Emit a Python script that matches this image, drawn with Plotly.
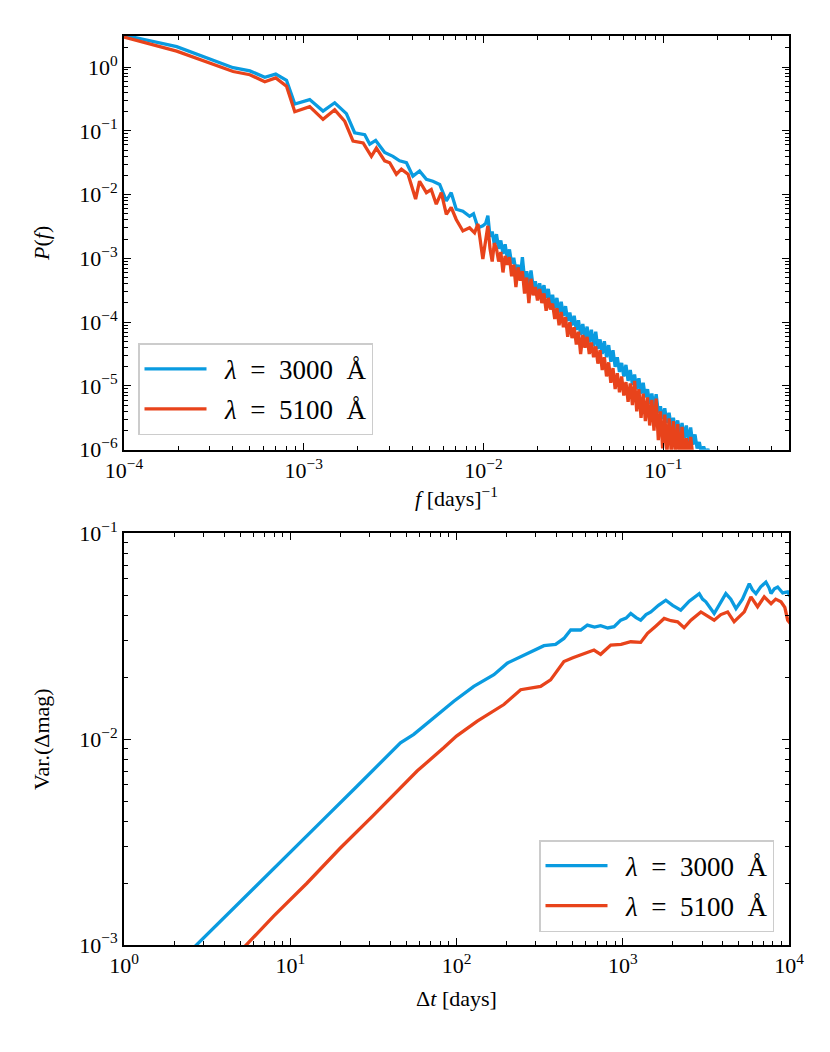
import numpy as np
import plotly.graph_objects as go

# ---------------- data (log10 values) ----------------
# Top panel: power spectrum P(f)
logf_3000 = [-4.0, -3.707, -3.393, -3.30, -3.217, -3.156, -3.096, -3.05, -2.967, -2.893,
             -2.828, -2.763, -2.717, -2.661, -2.633, -2.60, -2.55, -2.504, -2.467, -2.429,
             -2.393, -2.356, -2.318, -2.282, -2.244, -2.207, -2.18, -2.152, -2.115, -2.078,
             -2.056, -2.031, -2.004,
             -1.988, -1.976, -1.964, -1.952, -1.940, -1.928, -1.916, -1.904, -1.892, -1.880,
             -1.868, -1.856, -1.844, -1.832, -1.820, -1.808, -1.796, -1.784, -1.772, -1.760,
             -1.748, -1.736, -1.724, -1.712, -1.700, -1.688, -1.676, -1.664, -1.652, -1.640,
             -1.628, -1.616, -1.604, -1.592, -1.580, -1.568, -1.556, -1.544, -1.532, -1.520,
             -1.508, -1.496, -1.484, -1.472, -1.460, -1.448, -1.436, -1.424, -1.412, -1.400,
             -1.388, -1.376, -1.364, -1.352, -1.340, -1.328, -1.316, -1.304, -1.292, -1.280,
             -1.268, -1.256, -1.244, -1.232, -1.220, -1.208, -1.196, -1.184, -1.172, -1.160,
             -1.148, -1.136, -1.124, -1.112, -1.100, -1.088, -1.076, -1.064, -1.052, -1.040,
             -1.028, -1.016, -1.004, -0.992, -0.980, -0.968, -0.956, -0.944, -0.932, -0.920,
             -0.908, -0.896, -0.884, -0.872, -0.860, -0.848, -0.836, -0.824, -0.812, -0.800,
             -0.788, -0.776, -0.764, -0.752, -0.740]
logP_3000 = [0.50, 0.32, -0.01, -0.06, -0.16, -0.11, -0.21, -0.58, -0.51, -0.69,
             -0.56, -0.73, -1.03, -1.06, -1.21, -1.15, -1.34, -1.40, -1.47, -1.50,
             -1.71, -1.63, -1.76, -1.79, -1.84, -2.10, -1.97, -2.23, -2.26, -2.34,
             -2.30, -2.52, -2.49,
             -2.45, -2.33, -2.66, -2.58, -2.78, -2.62, -2.85, -2.72, -2.93, -2.78,
             -3.00, -2.86, -3.08, -2.99, -3.20, -3.10, -3.30, -2.98, -3.32, -3.20,
             -3.40, -3.19, -3.45, -3.36, -3.55, -3.39, -3.58, -3.42, -3.62, -3.48,
             -3.72, -3.57, -3.78, -3.62, -3.85, -3.68, -3.90, -3.75, -3.98, -3.85,
             -4.05, -3.90, -4.12, -3.97, -4.20, -4.03, -4.25, -4.07, -4.32, -4.12,
             -4.38, -4.15, -4.42, -4.27, -4.50, -4.30, -4.55, -4.36, -4.62, -4.44,
             -4.70, -4.55, -4.78, -4.64, -4.85, -4.67, -4.92, -4.75, -4.98, -4.82,
             -5.05, -4.88, -5.12, -4.95, -5.18, -5.05, -5.28, -5.12, -5.34, -5.13,
             -5.42, -5.32, -5.52, -5.35, -5.58, -5.42, -5.65, -5.50, -5.72, -5.54,
             -5.78, -5.58, -5.82, -5.62, -5.88, -5.65, -5.92, -5.76, -5.98, -5.88,
             -6.05, -5.95, -6.05, -5.99, -6.10]

logf_5100 = [-4.0, -3.707, -3.393, -3.30, -3.217, -3.156, -3.096, -3.05, -2.967, -2.893,
             -2.828, -2.772, -2.726, -2.67, -2.624, -2.596, -2.55, -2.522, -2.485, -2.457,
             -2.42, -2.378, -2.356, -2.318, -2.291, -2.263, -2.235, -2.207, -2.18, -2.152,
             -2.115, -2.078, -2.05, -2.031, -2.004,
             -1.988, -1.976, -1.964, -1.952, -1.940, -1.928, -1.916, -1.904, -1.892, -1.880,
             -1.868, -1.856, -1.844, -1.832, -1.820, -1.808, -1.796, -1.784, -1.772, -1.760,
             -1.748, -1.736, -1.724, -1.712, -1.700, -1.688, -1.676, -1.664, -1.652, -1.640,
             -1.628, -1.616, -1.604, -1.592, -1.580, -1.568, -1.556, -1.544, -1.532, -1.520,
             -1.508, -1.496, -1.484, -1.472, -1.460, -1.448, -1.436, -1.424, -1.412, -1.400,
             -1.388, -1.376, -1.364, -1.352, -1.340, -1.328, -1.316, -1.304, -1.292, -1.280,
             -1.268, -1.256, -1.244, -1.232, -1.220, -1.208, -1.196, -1.184, -1.172, -1.160,
             -1.148, -1.136, -1.124, -1.112, -1.100, -1.088, -1.076, -1.064, -1.052, -1.040,
             -1.028, -1.016, -1.004, -0.992, -0.980, -0.968, -0.956, -0.944, -0.932, -0.920,
             -0.908, -0.896, -0.884, -0.872, -0.860, -0.848, -0.836, -0.824, -0.812]
logP_5100 = [0.47, 0.25, -0.07, -0.12, -0.23, -0.17, -0.30, -0.70, -0.62, -0.82,
             -0.67, -0.85, -1.16, -1.19, -1.40, -1.27, -1.47, -1.50, -1.68, -1.60,
             -1.68, -2.07, -1.79, -1.97, -1.92, -2.15, -1.97, -2.31, -2.20, -2.39,
             -2.57, -2.52, -2.60, -2.46, -3.01,
             -2.70, -2.49, -2.85, -3.05, -2.76, -2.85, -3.05, -2.90, -3.22, -2.96,
             -3.10, -2.98, -3.28, -3.10, -3.45, -3.14, -3.35, -3.20, -3.55, -3.30,
             -3.70, -3.32, -3.58, -3.45, -3.66, -3.48, -3.70, -3.55, -3.82, -3.62,
             -3.80, -3.71, -3.95, -3.78, -4.05, -3.84, -4.08, -3.92, -4.23, -4.00,
             -4.25, -4.08, -4.35, -4.15, -4.50, -4.20, -4.40, -4.23, -4.50, -4.32,
             -4.55, -4.38, -4.65, -4.44, -4.75, -4.55, -4.85, -4.63, -4.95, -4.72,
             -5.05, -4.80, -5.10, -4.85, -5.15, -4.94, -5.25, -4.96, -5.30, -4.92,
             -5.40, -5.05, -5.50, -5.12, -5.55, -5.18, -5.62, -5.22, -5.70, -5.20,
             -5.85, -5.40, -5.98, -5.45, -6.05, -5.51, -6.05, -5.55, -6.10, -5.60,
             -6.10, -5.64, -6.10, -5.82, -6.10, -5.80, -6.10, -6.05, -6.15]

# Bottom panel: structure function Var.(Δmag) vs Δt
logdt_3000 = [0.398, 0.6, 0.8, 1.0, 1.2, 1.4, 1.55, 1.663, 1.743, 1.863,
              1.984, 2.104, 2.225, 2.305, 2.426, 2.526, 2.596, 2.646, 2.687, 2.747,
              2.787, 2.830, 2.867, 2.910, 2.948, 2.988, 3.020, 3.048, 3.080, 3.108,
              3.140, 3.169, 3.215, 3.259, 3.30, 3.349, 3.40, 3.430, 3.460, 3.480,
              3.5, 3.550, 3.590, 3.620, 3.650, 3.681, 3.72, 3.740, 3.761, 3.780,
              3.801, 3.830, 3.861, 3.880, 3.892, 3.912, 3.932, 3.962, 3.992, 4.01]
logV_3000 = [-3.03, -2.87, -2.71, -2.55, -2.39, -2.23, -2.11, -2.018, -1.977, -1.897,
             -1.816, -1.744, -1.687, -1.631, -1.583, -1.546, -1.540, -1.511, -1.470, -1.470,
             -1.446, -1.456, -1.449, -1.460, -1.454, -1.422, -1.412, -1.390, -1.410, -1.422,
             -1.395, -1.382, -1.350, -1.325, -1.350, -1.373, -1.330, -1.310, -1.293, -1.320,
             -1.333, -1.390, -1.330, -1.293, -1.320, -1.366, -1.320, -1.280, -1.245, -1.275,
             -1.293, -1.260, -1.237, -1.265, -1.293, -1.270, -1.261, -1.290, -1.285, -1.31]

logdt_5100 = [0.70, 0.9, 1.1, 1.3, 1.5, 1.65, 1.763, 1.923, 2.0, 2.125, 2.20, 2.285,
              2.386, 2.450, 2.506, 2.566, 2.646, 2.700, 2.747, 2.827, 2.867, 2.928, 2.990,
              3.048, 3.108, 3.149, 3.200, 3.249, 3.290, 3.330, 3.369, 3.410, 3.470, 3.510,
              3.550, 3.590, 3.631, 3.670, 3.731, 3.771, 3.811, 3.851, 3.892, 3.920,
              3.952, 3.975, 3.992, 4.01]
logV_5100 = [-3.03, -2.86, -2.70, -2.53, -2.37, -2.25, -2.155, -2.042, -1.985, -1.913, -1.875, -1.832,
             -1.760, -1.752, -1.744, -1.712, -1.623, -1.605, -1.591, -1.567, -1.588, -1.543, -1.540,
             -1.527, -1.530, -1.486, -1.450, -1.414, -1.425, -1.430, -1.459, -1.422, -1.382, -1.400,
             -1.422, -1.395, -1.382, -1.430, -1.382, -1.309, -1.357, -1.309, -1.342, -1.320,
             -1.333, -1.360, -1.422, -1.44]

labels = ["\u00a0\u00a0<i>λ</i>  =  3000  Å", "\u00a0\u00a0<i>λ</i>  =  5100  Å"]
colors = ["#0a9be0", "#e8431b"]

top_xticks = [-4, -3, -2, -1]
top_xtext = ["10<sup>−4</sup>", "10<sup>−3</sup>", "10<sup>−2</sup>", "10<sup>−1</sup>"]
top_yticks = [-6, -5, -4, -3, -2, -1, 0]
top_ytext = ["10<sup>−6</sup>", "10<sup>−5</sup>", "10<sup>−4</sup>", "10<sup>−3</sup>",
             "10<sup>−2</sup>", "10<sup>−1</sup>", "10<sup>0</sup>"]
bot_xticks = [0, 1, 2, 3, 4]
bot_xtext = ["10<sup>0</sup>", "10<sup>1</sup>", "10<sup>2</sup>", "10<sup>3</sup>", "10<sup>4</sup>"]
bot_yticks = [-3, -2, -1]
bot_ytext = ["10<sup>−3</sup>", "10<sup>−2</sup>", "10<sup>−1</sup>"]

# ---------------- figure ----------------
FONT = "Liberation Serif, DejaVu Serif, serif"
W, H = 822, 1044          # page body has an 8 px margin
L, R, T, B = 116, 41, 23, 107
plot_h = H - T - B
plot_w = W - L - R
top_dom = [(945 - 447) / plot_h, 1.0]
bot_dom = [0.0, (945 - 531) / plot_h]

fig = go.Figure()
series_top = [(logf_3000, logP_3000), (logf_5100, logP_5100)]
series_bot = [(logdt_3000, logV_3000), (logdt_5100, logV_5100)]
for i, (lx, ly) in enumerate(series_top):
    fig.add_trace(go.Scatter(x=10 ** np.array(lx), y=10 ** np.array(ly), mode="lines",
                             line=dict(color=colors[i], width=3.3), name=labels[i],
                             legendgroup="t%d" % i,
                             xaxis="x", yaxis="y", legend="legend"))
for i, (lx, ly) in enumerate(series_bot):
    fig.add_trace(go.Scatter(x=10 ** np.array(lx), y=10 ** np.array(ly), mode="lines",
                             line=dict(color=colors[i], width=3.3), name=labels[i],
                             legendgroup="b%d" % i,
                             xaxis="x2", yaxis="y2", legend="legend2"))


def axis(rng, tv, tt, dom=None, anchor=None, title=None, standoff=10):
    d = dict(type="log", range=rng, showline=True, linecolor="black", linewidth=1.7,
             mirror="allticks", ticks="inside", ticklen=7, tickwidth=1.3, tickcolor="black",
             tickvals=[10.0 ** v for v in tv], ticktext=tt, showgrid=False, zeroline=False,
             minor=dict(ticks="inside", ticklen=4, tickwidth=1, tickcolor="black",
                        dtick="D1", showgrid=False),
             tickfont=dict(family=FONT, size=22, color="black"))
    if dom is not None:
        d["domain"] = dom
    if anchor is not None:
        d["anchor"] = anchor
    if title is not None:
        d["title"] = dict(text=title, font=dict(family=FONT, size=22, color="black"),
                          standoff=standoff)
    return d


legend_common = dict(bgcolor="rgba(255,255,255,0.8)", bordercolor="#cccccc", borderwidth=1.5,
                     font=dict(family=FONT, size=27, color="black"), itemwidth=62,
                     tracegroupgap=2)

fig.update_layout(
    width=W, height=H, margin=dict(l=L, r=R, t=T, b=B),
    paper_bgcolor="white", plot_bgcolor="white",
    font=dict(family=FONT, color="black"),
    xaxis=axis([-4, np.log10(0.5)], top_xticks, top_xtext, anchor="y",
               title="<i>f</i> [days]<sup>−1</sup>", standoff=9),
    yaxis=axis([-6, 0.487], top_yticks, top_ytext, dom=top_dom, anchor="x",
               title="<i>P</i>(<i>f</i>)", standoff=24),
    xaxis2=axis([0, 4], bot_xticks, bot_xtext, anchor="y2",
                title="Δ<i>t</i> [days]", standoff=13),
    yaxis2=axis([-3, -1], bot_yticks, bot_ytext, dom=bot_dom, anchor="x2",
                title="Var.(Δmag)", standoff=24),
    legend=dict(x=(138 - 124) / plot_w, y=(945 - 340) / plot_h, xanchor="left", yanchor="top",
                **legend_common),
    legend2=dict(x=(774 - 124) / plot_w, y=(945 - 932) / plot_h, xanchor="right",
                 yanchor="bottom", **legend_common),
)

fig.write_html("out.html")
